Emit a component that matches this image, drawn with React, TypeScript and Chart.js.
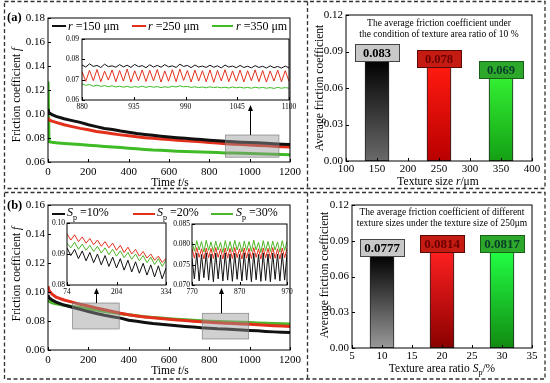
import React, { useEffect, useRef } from "react";
import { Chart, registerables } from "chart.js";
Chart.register(...registerables);

const FONT = "'Liberation Serif','Times New Roman',serif";
const BLACK = "#111111";
const RED = "#e3301d";
const GREEN_A = "#3fbb25";
const GREEN_B = "#4fb52a";

// ---------------- data ----------------
const timeMain = [0, 5, 20, 40, 80, 120, 160, 200, 240, 280, 320, 360, 400, 440, 480, 520, 560, 600, 640, 680, 720, 760, 800, 840, 880, 920, 960, 1000, 1040, 1080, 1120, 1160, 1200];
const timeTicks = [0, 200, 400, 600, 800, 1000, 1200];

const aR150 = [0.104, 0.101, 0.0995, 0.098, 0.096, 0.0945, 0.093, 0.091, 0.0895, 0.088, 0.087, 0.0858, 0.0848, 0.0838, 0.083, 0.0822, 0.0815, 0.0808, 0.0802, 0.0797, 0.0792, 0.0787, 0.0782, 0.0778, 0.0772, 0.0768, 0.0765, 0.0762, 0.076, 0.0757, 0.0752, 0.0748, 0.0745];
const aR250 = [0.097, 0.095, 0.094, 0.093, 0.091, 0.0895, 0.088, 0.0868, 0.0855, 0.0845, 0.0835, 0.0826, 0.0818, 0.081, 0.0803, 0.0797, 0.0792, 0.0787, 0.0782, 0.0777, 0.0772, 0.0768, 0.0763, 0.0758, 0.0752, 0.0748, 0.0745, 0.0742, 0.0738, 0.0735, 0.0732, 0.0728, 0.0725];
const aR350 = [0.127, 0.077, 0.0765, 0.076, 0.0755, 0.075, 0.0745, 0.074, 0.0735, 0.073, 0.0725, 0.072, 0.0715, 0.071, 0.0705, 0.07, 0.0697, 0.0693, 0.069, 0.0688, 0.0686, 0.0684, 0.0681, 0.0679, 0.0676, 0.0674, 0.0672, 0.067, 0.0668, 0.0666, 0.0664, 0.0662, 0.066];
const aYTicks = [0.06, 0.08, 0.1, 0.12, 0.14, 0.16, 0.18];

const bS10 = [0.098, 0.096, 0.0945, 0.093, 0.091, 0.0895, 0.088, 0.0865, 0.0852, 0.084, 0.083, 0.082, 0.0805, 0.0798, 0.079, 0.0783, 0.0778, 0.0772, 0.0767, 0.0762, 0.0758, 0.0753, 0.075, 0.0746, 0.0744, 0.0741, 0.0738, 0.0735, 0.0732, 0.0728, 0.0725, 0.0722, 0.072];
const bS20 = [0.104, 0.101, 0.0985, 0.0965, 0.0945, 0.093, 0.0915, 0.0903, 0.089, 0.0878, 0.0865, 0.0853, 0.0843, 0.0835, 0.0828, 0.0822, 0.0817, 0.0812, 0.0807, 0.0803, 0.0799, 0.0795, 0.0791, 0.0788, 0.0785, 0.0782, 0.078, 0.0777, 0.0774, 0.0771, 0.0768, 0.0765, 0.0762];
const bS30 = [0.0945, 0.0935, 0.0925, 0.0918, 0.0908, 0.09, 0.0893, 0.0885, 0.0876, 0.0866, 0.0858, 0.085, 0.0843, 0.0836, 0.083, 0.0825, 0.082, 0.0816, 0.0812, 0.0808, 0.0805, 0.0802, 0.0799, 0.0797, 0.0795, 0.0793, 0.0791, 0.0789, 0.0787, 0.0785, 0.0783, 0.0781, 0.078];
const bYTicks = [0.06, 0.08, 0.1, 0.12, 0.14, 0.16];

// inset (a)
const insetATime = [880, 884, 888, 892, 896, 900, 904, 908, 912, 916, 920, 924, 928, 932, 936, 940, 944, 948, 952, 956, 960, 964, 968, 972, 976, 980, 984, 988, 992, 996, 1000, 1004, 1008, 1012, 1016, 1020, 1024, 1028, 1032, 1036, 1040, 1044, 1048, 1052, 1056, 1060, 1064, 1068, 1072, 1076, 1080, 1084, 1088, 1092, 1096, 1100];
const insetA150 = [0.0772, 0.0762, 0.0778, 0.0765, 0.077, 0.076, 0.0776, 0.0764, 0.0768, 0.0761, 0.0774, 0.0763, 0.0771, 0.076, 0.0775, 0.0764, 0.0769, 0.0759, 0.0773, 0.0762, 0.077, 0.0761, 0.0774, 0.0763, 0.0768, 0.076, 0.0776, 0.0765, 0.077, 0.0759, 0.0772, 0.0762, 0.0767, 0.076, 0.0771, 0.0761, 0.0768, 0.0758, 0.0772, 0.0762, 0.0767, 0.0759, 0.077, 0.076, 0.0766, 0.0758, 0.0769, 0.076, 0.0766, 0.0757, 0.0768, 0.0759, 0.0765, 0.0757, 0.0767, 0.0758];
const insetA250 = [0.074, 0.0692, 0.0746, 0.0695, 0.075, 0.069, 0.0742, 0.0698, 0.0748, 0.069, 0.0745, 0.0693, 0.0752, 0.0688, 0.0744, 0.0695, 0.0748, 0.0691, 0.0746, 0.0694, 0.075, 0.0688, 0.0743, 0.0692, 0.0749, 0.069, 0.0752, 0.0696, 0.0745, 0.0689, 0.0747, 0.0693, 0.0744, 0.069, 0.0748, 0.0687, 0.0745, 0.0694, 0.0749, 0.069, 0.0743, 0.0692, 0.0747, 0.0689, 0.0744, 0.0695, 0.0748, 0.069, 0.0745, 0.0688, 0.0743, 0.0693, 0.0747, 0.069, 0.0744, 0.0692];
const insetA350 = [0.068, 0.0672, 0.0676, 0.0668, 0.0673, 0.0667, 0.0671, 0.0665, 0.067, 0.0664, 0.0668, 0.0663, 0.0667, 0.0662, 0.0666, 0.0663, 0.0668, 0.0662, 0.0667, 0.0663, 0.0666, 0.0661, 0.0665, 0.0662, 0.0668, 0.0664, 0.067, 0.0665, 0.0667, 0.0662, 0.0665, 0.0661, 0.0664, 0.066, 0.0665, 0.0661, 0.0664, 0.066, 0.0663, 0.0659, 0.0664, 0.066, 0.0663, 0.0659, 0.0662, 0.0658, 0.0663, 0.0659, 0.0662, 0.0658, 0.0661, 0.0657, 0.0662, 0.0658, 0.0661, 0.0658];
const insetAXTicks = [880, 935, 990, 1045, 1100];
const insetAYTicks = [0.06, 0.07, 0.08, 0.09];

// inset (b) left
const insetB1Time = [74, 84, 94, 104, 114, 124, 134, 144, 154, 164, 174, 184, 194, 204, 214, 224, 234, 244, 254, 264, 274, 284, 294, 304, 314, 324, 334];
const insetB1S10 = [0.092, 0.0895, 0.0915, 0.0885, 0.091, 0.0878, 0.0905, 0.0872, 0.09, 0.0865, 0.0895, 0.086, 0.089, 0.0855, 0.0885, 0.0848, 0.088, 0.0842, 0.0875, 0.0838, 0.087, 0.0832, 0.0865, 0.0826, 0.0862, 0.082, 0.0855];
const insetB1S20 = [0.0965, 0.0945, 0.0962, 0.094, 0.0955, 0.0935, 0.095, 0.093, 0.0945, 0.0925, 0.094, 0.092, 0.0935, 0.0912, 0.0928, 0.0905, 0.0922, 0.09, 0.0915, 0.0893, 0.0908, 0.0887, 0.09, 0.088, 0.0893, 0.0873, 0.0885];
const insetB1S30 = [0.0935, 0.092, 0.0938, 0.0915, 0.0932, 0.0912, 0.0928, 0.0908, 0.0925, 0.0903, 0.092, 0.0898, 0.0915, 0.0893, 0.091, 0.0888, 0.0905, 0.0883, 0.09, 0.0878, 0.0895, 0.0872, 0.089, 0.0866, 0.0885, 0.086, 0.088];
const insetB1XTicks = [74, 204, 334];
const insetB1YTicks = [0.08, 0.09, 0.1];

// inset (b) right
const insetB2Time = [770, 775, 780, 785, 790, 795, 800, 805, 810, 815, 820, 825, 830, 835, 840, 845, 850, 855, 860, 865, 870, 875, 880, 885, 890, 895, 900, 905, 910, 915, 920, 925, 930, 935, 940, 945, 950, 955, 960, 965, 970];
const insetB2S10 = [0.0765, 0.0715, 0.0778, 0.071, 0.0775, 0.0718, 0.0779, 0.0712, 0.0776, 0.0708, 0.0778, 0.0715, 0.0774, 0.071, 0.0779, 0.0712, 0.0776, 0.0709, 0.0778, 0.0714, 0.0775, 0.071, 0.0779, 0.0712, 0.0777, 0.0708, 0.0778, 0.0713, 0.0775, 0.0709, 0.0779, 0.0711, 0.0776, 0.0708, 0.0778, 0.0714, 0.0776, 0.071, 0.0778, 0.0712, 0.0776];
const insetB2S20 = [0.079, 0.0766, 0.0792, 0.0768, 0.0789, 0.0764, 0.0791, 0.0767, 0.079, 0.0765, 0.0792, 0.0768, 0.0789, 0.0764, 0.0791, 0.0766, 0.079, 0.0765, 0.0792, 0.0767, 0.0789, 0.0764, 0.0791, 0.0766, 0.079, 0.0765, 0.0792, 0.0768, 0.0789, 0.0764, 0.0791, 0.0767, 0.079, 0.0765, 0.0792, 0.0766, 0.0789, 0.0764, 0.0791, 0.0767, 0.079];
const insetB2S30 = [0.0806, 0.0783, 0.0809, 0.0786, 0.0807, 0.0781, 0.081, 0.0785, 0.0806, 0.0782, 0.0808, 0.0786, 0.0805, 0.078, 0.0809, 0.0784, 0.0807, 0.0782, 0.081, 0.0786, 0.0806, 0.0781, 0.0808, 0.0785, 0.0807, 0.0783, 0.081, 0.0786, 0.0805, 0.078, 0.0809, 0.0784, 0.0807, 0.0782, 0.0808, 0.0786, 0.0806, 0.0781, 0.0809, 0.0785, 0.0807];
const insetB2XTicks = [770, 870, 970];
const insetB2YTicks = [0.07, 0.075, 0.08, 0.085];

// bar charts
const barASizes = [150, 250, 350];
const barAValues = [0.083, 0.078, 0.069];
const barALabels = ["0.083", "0.078", "0.069"];
const barAXTicks = [100, 150, 200, 250, 300, 350, 400];
const barBRatios = [10, 20, 30];
const barBValues = [0.0777, 0.0814, 0.0817];
const barBLabels = ["0.0777", "0.0814", "0.0817"];
const barBXTicks = [5, 10, 15, 20, 25, 30, 35];
const barYTicks = [0, 0.03, 0.06, 0.09, 0.12];

// ---------------- plugins ----------------
const framePlugin = {
  id: "frame",
  beforeDraw(chart: any, _a: any, opts: any) {
    if (opts && opts.fill) {
      const a = chart.chartArea;
      const ctx = chart.ctx;
      ctx.save();
      ctx.fillStyle = opts.fill;
      ctx.fillRect(a.left, a.top, a.right - a.left, a.bottom - a.top);
      ctx.restore();
    }
  },
  afterDraw(chart: any, _a: any, opts: any) {
    const ctx = chart.ctx;
    const a = chart.chartArea;
    const xs = chart.scales.x;
    const ys = chart.scales.y;
    const tl = (opts && opts.tick) || 3;
    ctx.save();
    ctx.strokeStyle = "#000";
    ctx.lineWidth = (opts && opts.lineWidth) || 1;
    ctx.strokeRect(a.left, a.top, a.right - a.left, a.bottom - a.top);
    ctx.beginPath();
    xs.ticks.forEach((t: any) => {
      const px = Math.round(xs.getPixelForValue(t.value)) + 0.5;
      ctx.moveTo(px, a.bottom);
      ctx.lineTo(px, a.bottom - tl);
    });
    ys.ticks.forEach((t: any) => {
      const py = Math.round(ys.getPixelForValue(t.value)) + 0.5;
      ctx.moveTo(a.left, py);
      ctx.lineTo(a.left + tl, py);
    });
    ctx.stroke();
    ctx.restore();
  },
};

const annoPlugin = {
  id: "anno",
  afterDatasetsDraw(chart: any, _a: any, opts: any) {
    if (!opts) return;
    const ctx = chart.ctx;
    const xs = chart.scales.x;
    const ys = chart.scales.y;
    ctx.save();
    (opts.boxes || []).forEach((b: any) => {
      const x0 = xs.getPixelForValue(b[0]);
      const x1 = xs.getPixelForValue(b[1]);
      const y0 = ys.getPixelForValue(b[3]);
      const y1 = ys.getPixelForValue(b[2]);
      ctx.fillStyle = "rgba(150,150,150,0.45)";
      ctx.fillRect(x0, y0, x1 - x0, y1 - y0);
      ctx.strokeStyle = "rgba(120,120,120,0.8)";
      ctx.lineWidth = 0.8;
      ctx.strokeRect(x0, y0, x1 - x0, y1 - y0);
    });
    (opts.arrows || []).forEach((ar: any) => {
      const x = Math.round(xs.getPixelForValue(ar[0])) + 0.5;
      const yA = ys.getPixelForValue(ar[1]);
      const yB = ys.getPixelForValue(ar[2]);
      ctx.strokeStyle = "#000";
      ctx.fillStyle = "#000";
      ctx.lineWidth = 1;
      ctx.beginPath();
      ctx.moveTo(x, yA);
      ctx.lineTo(x, yB + 4);
      ctx.stroke();
      ctx.beginPath();
      ctx.moveTo(x, yB);
      ctx.lineTo(x - 2.5, yB + 6);
      ctx.lineTo(x + 2.5, yB + 6);
      ctx.closePath();
      ctx.fill();
    });
    ctx.restore();
  },
};

const barLabelPlugin = {
  id: "barLabels",
  afterDatasetsDraw(chart: any, _a: any, opts: any) {
    if (!opts || !opts.labels) return;
    const ctx = chart.ctx;
    const meta = chart.getDatasetMeta(0);
    ctx.save();
    meta.data.forEach((el: any, i: number) => {
      const x = el.x;
      const y = el.y;
      const w = opts.boxW;
      const h = opts.boxH;
      const bx = Math.round(x - w / 2) + 0.5;
      const by = Math.round(y - h + 1) + 0.5;
      ctx.fillStyle = opts.fills[i];
      ctx.fillRect(bx, by, w, h);
      ctx.strokeStyle = opts.strokes[i];
      ctx.lineWidth = 1;
      ctx.strokeRect(bx, by, w, h);
      ctx.fillStyle = opts.texts[i];
      ctx.font = `bold ${opts.fontSize}px ${FONT}`;
      ctx.textAlign = "center";
      ctx.textBaseline = "middle";
      ctx.fillText(opts.labels[i], x, by + h / 2 + 1);
    });
    ctx.restore();
  },
};

// ---------------- config builders ----------------
type Series = { x: number[]; y: number[]; color: string; width: number };

function lineConfig(o: {
  xMin: number; xMax: number; xTicks: number[];
  yMin: number; yMax: number; yTicks: number[]; yDigits: number;
  fontSize: number; series: Series[]; yw: number; xh: number; pad: number;
  xPad: number; yPad: number; fill?: string; boxes?: number[][]; arrows?: number[][];
}) {
  const font = { family: FONT, size: o.fontSize };
  return {
    type: "line",
    data: {
      datasets: o.series.map((s) => ({
        data: s.x.map((x, i) => ({ x, y: s.y[i] })),
        borderColor: s.color,
        borderWidth: s.width,
        pointRadius: 0,
        tension: 0,
        fill: false,
      })),
    },
    options: {
      animation: false,
      responsive: false,
      maintainAspectRatio: false,
      events: [],
      layout: { padding: o.pad },
      plugins: {
        legend: { display: false },
        tooltip: { enabled: false },
        frame: { fill: o.fill, tick: 3, lineWidth: 1 },
        anno: { boxes: o.boxes || [], arrows: o.arrows || [] },
      },
      scales: {
        x: {
          type: "linear",
          min: o.xMin,
          max: o.xMax,
          afterBuildTicks: (s: any) => { s.ticks = o.xTicks.map((v) => ({ value: v })); },
          afterFit: (s: any) => { s.height = o.xh; },
          ticks: { font, color: "#000", padding: o.xPad, maxRotation: 0, autoSkip: false, callback: (v: any) => String(v) },
          grid: { display: false, drawTicks: false },
          border: { display: false },
        },
        y: {
          type: "linear",
          min: o.yMin,
          max: o.yMax,
          afterBuildTicks: (s: any) => { s.ticks = o.yTicks.map((v) => ({ value: v })); },
          afterFit: (s: any) => { s.width = o.yw; },
          ticks: { font, color: "#000", padding: o.yPad, autoSkip: false, callback: (v: any) => Number(v).toFixed(o.yDigits) },
          grid: { display: false, drawTicks: false },
          border: { display: false },
        },
      },
    },
    plugins: [framePlugin, annoPlugin],
  };
}

function barConfig(o: {
  xMin: number; xMax: number; xTicks: number[]; cats: number[]; values: number[];
  grads: string[][]; labels: string[]; fills: string[]; strokes: string[]; texts: string[];
  fontSize: number; boxW: number; boxH: number; yw: number; xh: number; pad: number;
}) {
  const font = { family: FONT, size: 11 };
  return {
    type: "bar",
    data: {
      datasets: [
        {
          data: o.cats.map((x, i) => ({ x, y: o.values[i] })),
          barThickness: 24,
          borderColor: "#222",
          borderWidth: 1,
          borderSkipped: false,
          backgroundColor: (c: any) => {
            const i = c.dataIndex;
            if (i === undefined) return "#000";
            const chart = c.chart;
            const area = chart.chartArea;
            const g0 = o.grads[i];
            if (!area || !chart.scales.y) return g0[0];
            const yTop = chart.scales.y.getPixelForValue(o.values[i]);
            const g = chart.ctx.createLinearGradient(0, yTop, 0, area.bottom);
            g.addColorStop(0, g0[0]);
            g.addColorStop(1, g0[1]);
            return g;
          },
        },
      ],
    },
    options: {
      animation: false,
      responsive: false,
      maintainAspectRatio: false,
      events: [],
      layout: { padding: o.pad },
      plugins: {
        legend: { display: false },
        tooltip: { enabled: false },
        frame: { tick: 3, lineWidth: 1 },
        barLabels: { labels: o.labels, fills: o.fills, strokes: o.strokes, texts: o.texts, fontSize: o.fontSize, boxW: o.boxW, boxH: o.boxH },
      },
      scales: {
        x: {
          type: "linear",
          offset: false,
          min: o.xMin,
          max: o.xMax,
          afterBuildTicks: (s: any) => { s.ticks = o.xTicks.map((v) => ({ value: v })); },
          afterFit: (s: any) => { s.height = o.xh; },
          ticks: { font, color: "#000", padding: 2, maxRotation: 0, autoSkip: false, callback: (v: any) => String(v) },
          grid: { display: false, drawTicks: false, offset: false },
          border: { display: false },
        },
        y: {
          type: "linear",
          min: 0,
          max: 0.12,
          afterBuildTicks: (s: any) => { s.ticks = barYTicks.map((v) => ({ value: v })); },
          afterFit: (s: any) => { s.width = o.yw; },
          ticks: { font, color: "#000", padding: 3, autoSkip: false, callback: (v: any) => Number(v).toFixed(2) },
          grid: { display: false, drawTicks: false },
          border: { display: false },
        },
      },
    },
    plugins: [framePlugin, barLabelPlugin],
  };
}

// ---------------- components ----------------
function ChartBox({ plot, yw, xh, pad, make }: { plot: number[]; yw: number; xh: number; pad: number; make: () => any }) {
  const ref = useRef<HTMLCanvasElement>(null);
  const left = plot[0] - yw - pad;
  const top = plot[1] - pad;
  const width = plot[2] - plot[0] + yw + 2 * pad;
  const height = plot[3] - plot[1] + xh + 2 * pad;
  useEffect(() => {
    if (!ref.current) return;
    const chart = new Chart(ref.current, make());
    return () => chart.destroy();
  }, []);
  return (
    <canvas
      ref={ref}
      width={width}
      height={height}
      style={{ position: "absolute", left, top, width, height }}
    />
  );
}

function T({ x, y, children, size = 11, rotate = false, bold = false, left = false, color = "#000" }: any) {
  return (
    <div
      style={{
        position: "absolute",
        left: x,
        top: y,
        transform: `translate(${left ? "0" : "-50%"},-50%)${rotate ? " rotate(-90deg)" : ""}`,
        whiteSpace: "nowrap",
        fontSize: size,
        fontFamily: FONT,
        fontWeight: bold ? "bold" : "normal",
        lineHeight: 1,
        color,
      }}
    >
      {children}
    </div>
  );
}

function LegLine({ x0, x1, y, color }: any) {
  return <div style={{ position: "absolute", left: x0, top: y - 0.75, width: x1 - x0, height: 1.5, background: color }} />;
}

export default function App() {
  const PAD = 12;
  return (
    <div style={{ position: "fixed", left: 0, top: 0, width: 550, height: 383, background: "#fff", overflow: "hidden", fontFamily: FONT }}>
      <svg width={550} height={383} style={{ position: "absolute", left: 0, top: 0 }}>
        <g stroke="#333" strokeWidth={1.3} strokeDasharray="4 2.5" fill="none">
          <rect x={4.5} y={1.5} width={540.5} height={187} />
          <rect x={4.5} y={192.5} width={540.5} height={186.5} />
          <line x1={307.5} y1={1.5} x2={307.5} y2={188.5} />
          <line x1={307.5} y1={192.5} x2={307.5} y2={379} />
        </g>
      </svg>

      {/* panel (a) main */}
      <ChartBox plot={[48, 18, 293, 162]} yw={40} xh={18} pad={PAD} make={() => lineConfig({
        xMin: 0, xMax: 1200, xTicks: timeTicks, yMin: 0.06, yMax: 0.18, yTicks: aYTicks, yDigits: 2, fontSize: 11,
        yw: 40, xh: 18, pad: PAD, xPad: 4, yPad: 3,
        series: [
          { x: timeMain, y: aR150, color: BLACK, width: 3 },
          { x: timeMain, y: aR250, color: RED, width: 3 },
          { x: timeMain, y: aR350, color: GREEN_A, width: 3 },
        ],
        boxes: [[880, 1145, 0.064, 0.0825]],
        arrows: [[1000, 0.0825, 0.1075]],
      })} />
      {/* panel (a) inset */}
      <ChartBox plot={[82, 39, 289, 100]} yw={30} xh={12} pad={PAD} make={() => lineConfig({
        xMin: 880, xMax: 1100, xTicks: insetAXTicks, yMin: 0.06, yMax: 0.09, yTicks: insetAYTicks, yDigits: 2, fontSize: 7.5,
        yw: 30, xh: 12, pad: PAD, xPad: 3, yPad: 3, fill: "#fff",
        series: [
          { x: insetATime, y: insetA150, color: BLACK, width: 1 },
          { x: insetATime, y: insetA250, color: RED, width: 1 },
          { x: insetATime, y: insetA350, color: GREEN_A, width: 1 },
        ],
      })} />
      {/* panel (a) bars */}
      <ChartBox plot={[346, 15, 532, 161]} yw={40} xh={18} pad={PAD} make={() => barConfig({
        xMin: 100, xMax: 400, xTicks: barAXTicks, cats: barASizes, values: barAValues,
        grads: [["#000000", "#6a6a6a"], ["#ff1a10", "#b80000"], ["#33f033", "#14a014"]],
        labels: barALabels,
        fills: ["#c8c8c8", "#c41c12", "#2ea82a"],
        strokes: ["#444", "#5a0a05", "#175f17"],
        texts: ["#000", "#6a0000", "#063d28"],
        fontSize: 12.5, boxW: 44, boxH: 17, yw: 40, xh: 18, pad: PAD,
      })} />

      {/* panel (b) main */}
      <ChartBox plot={[48, 205, 293, 350]} yw={40} xh={18} pad={PAD} make={() => lineConfig({
        xMin: 0, xMax: 1200, xTicks: timeTicks, yMin: 0.06, yMax: 0.16, yTicks: bYTicks, yDigits: 2, fontSize: 11,
        yw: 40, xh: 18, pad: PAD, xPad: 4, yPad: 3,
        series: [
          { x: timeMain, y: bS10, color: BLACK, width: 3 },
          { x: timeMain, y: bS20, color: RED, width: 3 },
          { x: timeMain, y: bS30, color: GREEN_B, width: 3 },
        ],
        boxes: [[122, 353, 0.0745, 0.0924], [765, 995, 0.0676, 0.0853]],
        arrows: [[240, 0.0924, 0.1028], [858, 0.0853, 0.1028]],
      })} />
      {/* panel (b) inset 1 */}
      <ChartBox plot={[67, 223, 166, 285]} yw={22} xh={12} pad={PAD} make={() => lineConfig({
        xMin: 74, xMax: 334, xTicks: insetB1XTicks, yMin: 0.08, yMax: 0.1, yTicks: insetB1YTicks, yDigits: 2, fontSize: 7.5,
        yw: 22, xh: 12, pad: PAD, xPad: 3, yPad: 2, fill: "#fff",
        series: [
          { x: insetB1Time, y: insetB1S10, color: BLACK, width: 1 },
          { x: insetB1Time, y: insetB1S20, color: RED, width: 1 },
          { x: insetB1Time, y: insetB1S30, color: GREEN_B, width: 1 },
        ],
      })} />
      {/* panel (b) inset 2 */}
      <ChartBox plot={[192, 224, 287, 285]} yw={24} xh={12} pad={PAD} make={() => lineConfig({
        xMin: 770, xMax: 970, xTicks: insetB2XTicks, yMin: 0.07, yMax: 0.085, yTicks: insetB2YTicks, yDigits: 3, fontSize: 7.5,
        yw: 24, xh: 12, pad: PAD, xPad: 3, yPad: 2, fill: "#fff",
        series: [
          { x: insetB2Time, y: insetB2S10, color: BLACK, width: 1 },
          { x: insetB2Time, y: insetB2S20, color: RED, width: 1 },
          { x: insetB2Time, y: insetB2S30, color: GREEN_B, width: 1 },
        ],
      })} />
      {/* panel (b) bars */}
      <ChartBox plot={[352, 205, 532, 348]} yw={40} xh={18} pad={PAD} make={() => barConfig({
        xMin: 5, xMax: 35, xTicks: barBXTicks, cats: barBRatios, values: barBValues,
        grads: [["#000000", "#9a9a9a"], ["#ff2020", "#8a0000"], ["#22ff44", "#118a11"]],
        labels: barBLabels,
        fills: ["#c8c8c8", "#c41c12", "#2ea82a"],
        strokes: ["#444", "#5a0a05", "#175f17"],
        texts: ["#000", "#6a0000", "#063d28"],
        fontSize: 13, boxW: 44, boxH: 17, yw: 40, xh: 18, pad: PAD,
      })} />

      {/* panel labels */}
      <T x={7} y={17} size={12.5} bold left>(a)</T>
      <T x={7} y={205} size={12.5} bold left>(b)</T>

      {/* legend (a) */}
      <LegLine x0={52} x1={66} y={26} color={BLACK} />
      <T x={68} y={26} size={12} left><i>r</i> =150 μm</T>
      <LegLine x0={132} x1={146} y={26} color={RED} />
      <T x={148} y={26} size={12} left><i>r</i> =250 μm</T>
      <LegLine x0={212} x1={233} y={26} color={GREEN_A} />
      <T x={236} y={26} size={12} left><i>r</i> =350 μm</T>

      {/* legend (b) */}
      <LegLine x0={52} x1={65} y={214} color={BLACK} />
      <T x={67} y={214} size={12} left><i>S</i><sub style={{ fontSize: 8 }}>p</sub> =10%</T>
      <LegLine x0={133} x1={155} y={214} color={RED} />
      <T x={157} y={214} size={12} left><i>S</i><sub style={{ fontSize: 8 }}>p</sub> =20%</T>
      <LegLine x0={211} x1={233} y={214} color={GREEN_B} />
      <T x={236} y={214} size={12} left><i>S</i><sub style={{ fontSize: 8 }}>p</sub> =30%</T>

      {/* axis titles (a) */}
      <T x={17} y={95} size={11.5} rotate>Friction coefficient <i>f</i></T>
      <T x={170} y={183} size={11.5}>Time <i>t</i>/s</T>
      <T x={320} y={88} size={11.5} rotate>Average friction coefficient</T>
      <T x={438} y={182} size={11.5}>Texture size <i>r</i>/μm</T>
      <div style={{ position: "absolute", left: 346, width: 186, top: 18, textAlign: "center", fontFamily: FONT, fontSize: 9.5, lineHeight: "11px" }}>
        The average friction coefficient under<br />the condition of texture area ratio of 10 %
      </div>

      {/* axis titles (b) */}
      <T x={17} y={274} size={11.5} rotate>Friction coefficient <i>f</i></T>
      <T x={170} y={371} size={11.5}>Time <i>t</i>/s</T>
      <T x={325} y={275} size={11.5} rotate>Average friction coefficient</T>
      <T x={442} y={370} size={11.5}>Texture area ratio <i>S</i><sub style={{ fontSize: 8 }}>p</sub>/%</T>
      <div style={{ position: "absolute", left: 352, width: 180, top: 207, textAlign: "center", fontFamily: FONT, fontSize: 9.5, lineHeight: "11px" }}>
        The average friction coefficient of different<br />texture sizes under the texture size of 250μm
      </div>
    </div>
  );
}
